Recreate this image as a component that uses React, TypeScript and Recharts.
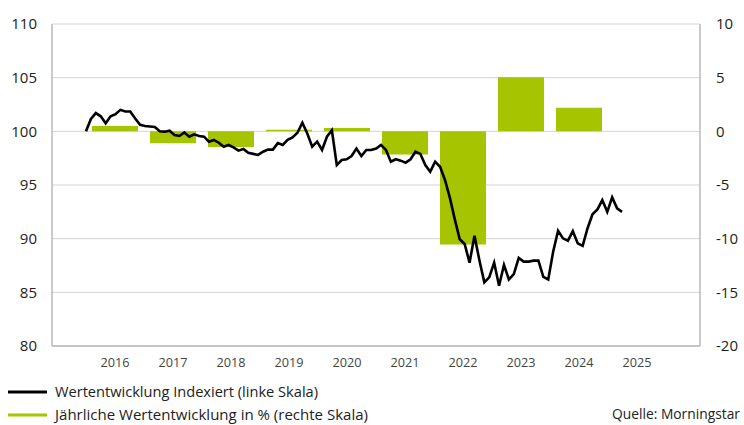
import React from 'react';
import { ComposedChart, Bar, Line, XAxis, YAxis, CartesianGrid } from 'recharts';

const years = ['2016', '2017', '2018', '2019', '2020', '2021', '2022', '2023', '2024', '2025'];
const annualReturns = [0.5, -1.1, -1.45, 0.15, 0.3, -2.15, -10.55, 5.05, 2.2, 0];

const indexValues = [
  100, 101.15, 101.7, 101.4, 100.75, 101.4, 101.6, 102.0, 101.85, 101.85,
  101.2, 100.6, 100.5, 100.45, 100.4, 100.0, 99.97, 100.06, 99.66, 99.57,
  99.9, 99.5, 99.72, 99.57, 99.5, 99.04, 99.2, 98.94, 98.57, 98.73,
  98.5, 98.2, 98.35, 98.0, 97.9, 97.8, 98.1, 98.3, 98.3, 98.9,
  98.73, 99.2, 99.44, 99.87, 100.8, 99.8, 98.57, 99.04, 98.26, 99.5,
  100.1, 96.86, 97.33, 97.4, 97.7, 98.4, 97.7, 98.26, 98.26, 98.4,
  98.73, 98.26, 97.17, 97.4, 97.27, 97.08, 97.4, 98.1, 97.9, 96.86,
  96.24, 97.17, 96.7, 95.47, 93.8, 91.8, 89.94, 89.5, 87.76, 90.28,
  88.0, 85.93, 86.4, 87.76, 85.62, 87.55, 86.2, 86.7, 88.2, 87.86,
  87.86, 87.95, 87.95, 86.45, 86.2, 88.78, 90.74, 90.03, 89.81, 90.7,
  89.56, 89.32, 90.97, 92.27, 92.73, 93.6, 92.5, 93.85, 92.83, 92.5,
];

const leftTicks = [80, 85, 90, 95, 100, 105, 110];
const rightTicks = [-20, -15, -10, -5, 0, 5, 10];

const legendLabels = [
  'Wertentwicklung Indexiert (linke Skala)',
  'Jährliche Wertentwicklung in % (rechte Skala)',
];
const sourceLabel = 'Quelle: Morningstar';

const barData = years.map((y, i) => ({ year: y, ret: annualReturns[i] }));
const lineData = indexValues.map((v, i) => ({ i, v }));

const GREEN = '#a6c400';
const FONT = '"Open Sans", "Noto Sans", sans-serif';

export default function App() {
  return (
    <div style={{ position: 'absolute', left: 0, top: 0, width: 744, height: 425, overflow: 'hidden', background: '#fff' }}>
      <ComposedChart
        width={744}
        height={425}
        data={barData}
        margin={{ top: 24, right: 0, bottom: 49, left: 0 }}
      >
        <CartesianGrid
          vertical={false}
          stroke="#d4d4d4"
          strokeWidth={1}
          yAxisId="left"
          xAxisId="cat"
        />
        <XAxis
          xAxisId="cat"
          dataKey="year"
          type="category"
          padding={{ left: 34, right: 34 }}
          axisLine={{ stroke: '#b8b8b8', strokeWidth: 1.5 }}
          tickLine={false}
          tickSize={0}
          tickMargin={12}
          height={30}
          tick={{ fill: '#444', fontSize: 12.7, fontFamily: FONT }}
          interval={0}
        />
        <XAxis
          xAxisId="time"
          dataKey="i"
          type="number"
          domain={[0, 109]}
          padding={{ left: 34, right: 78 }}
          hide
        />
        <YAxis
          yAxisId="left"
          orientation="left"
          domain={[80, 110]}
          ticks={leftTicks}
          width={52}
          axisLine={{ stroke: '#b8b8b8', strokeWidth: 1.5 }}
          tickLine={false}
          tickSize={0}
          tickMargin={15}
          tick={{ fill: '#222', fontSize: 15, fontFamily: FONT }}
          interval={0}
        />
        <YAxis
          yAxisId="right"
          orientation="right"
          domain={[-20, 10]}
          ticks={rightTicks}
          width={44}
          axisLine={{ stroke: '#b8b8b8', strokeWidth: 1.5 }}
          tickLine={false}
          tickSize={0}
          tickMargin={16}
          tick={{ fill: '#222', fontSize: 15, fontFamily: FONT, textAnchor: 'start' }}
          interval={0}
        />
        <Bar
          xAxisId="cat"
          yAxisId="right"
          dataKey="ret"
          fill={GREEN}
          barSize={46}
          isAnimationActive={false}
        />
        <Line
          xAxisId="time"
          yAxisId="left"
          data={lineData}
          dataKey="v"
          type="linear"
          stroke="#000"
          strokeWidth={2.6}
          dot={false}
          activeDot={false}
          isAnimationActive={false}
        />
      </ComposedChart>
      <svg
        width={744}
        height={425}
        style={{ position: 'absolute', left: 0, top: 0, pointerEvents: 'none' }}
      >
        <line x1={8} x2={47} y1={392} y2={392} stroke="#000" strokeWidth={3} />
        <text x={55} y={397} fontFamily={FONT} fontSize={15} fill="#222" textLength={263} lengthAdjust="spacingAndGlyphs">
          {legendLabels[0]}
        </text>
        <line x1={8} x2={47} y1={415} y2={415} stroke={GREEN} strokeWidth={3} />
        <text x={55} y={420} fontFamily={FONT} fontSize={15} fill="#222" textLength={313} lengthAdjust="spacingAndGlyphs">
          {legendLabels[1]}
        </text>
        <text x={612} y={419} fontFamily={FONT} fontSize={13.6} fill="#222" textLength={128} lengthAdjust="spacingAndGlyphs">
          {sourceLabel}
        </text>
      </svg>
    </div>
  );
}
